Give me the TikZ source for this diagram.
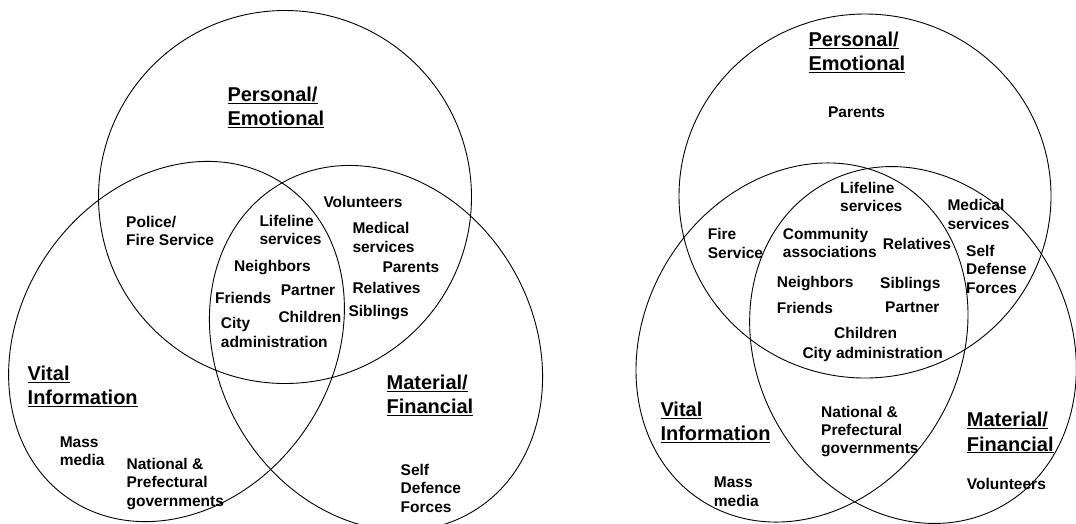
\documentclass[tikz,border=0pt]{standalone}
\usepackage{fontspec}
\setmainfont{Liberation Sans}
\begin{document}
\begin{tikzpicture}[x=1pt,y=-1pt,
  lbl/.style={anchor=north west, inner sep=0pt, align=left, font=\bfseries\fontsize{15.5}{18.3}\selectfont},
  hdr/.style={anchor=north west, inner sep=0pt, align=left, font=\bfseries\fontsize{20}{24.3}\selectfont},
  ring/.style={draw=black, line width=0.9pt}]
\useasboundingbox (0,0) rectangle (1076,523);
\clip (0,0) rectangle (1076,523);
% ---------- left diagram ----------
\draw[ring] (285,197) circle[radius=186.5pt];
\draw[ring, rotate around={55.4:(176.5,341.5)}] (176.5,341.5) ellipse[x radius=190.5pt, y radius=156pt];
\draw[ring, rotate around={120:(376,348)}] (376,348) ellipse[x radius=190pt, y radius=158pt];
\node[hdr] (pe1) at (227.3,86.8) {\underline{Personal/}\\\underline{Emotional}};
\node[hdr] (vi1) at (27.5,365.7) {\underline{Vital}\\\underline{Information}};
\node[hdr] (mf1) at (386.4,374.3) {\underline{Material/}\\\underline{Financial}};
\node[lbl] (pol1) at (126,216) {Police/\\Fire Service};
\node[lbl] (lif1) at (259.3,215) {Lifeline\\services};
\node[lbl] (vol1) at (323.3,196) {Volunteers};
\node[lbl] (med1) at (352.3,222.3) {Medical\\services};
\node[lbl] (par1) at (382.3,261.7) {Parents};
\node[lbl] (nei1) at (234,260) {Neighbors};
\node[lbl] (rel1) at (352.3,282.3) {Relatives};
\node[lbl] (ptn1) at (280.7,285) {Partner};
\node[lbl] (fri1) at (215,292.3) {Friends};
\node[lbl] (sib1) at (348.3,305) {Siblings};
\node[lbl] (chi1) at (278.3,311) {Children};
\node[lbl] (cit1) at (220.7,317.3) {City\\administration};
\node[lbl] (mas1) at (59.6,436.6) {Mass\\media};
\node[lbl] (nat1) at (126.4,458) {National \&\\Prefectural\\governments};
\node[lbl] (sdf1) at (400.5,464.2) {Self\\Defence\\Forces};
% ---------- right diagram ----------
\draw[ring] (865,196) ellipse[x radius=186pt, y radius=182pt];
\draw[ring, rotate around={58.4:(802,342.5)}] (802,342.5) ellipse[x radius=187.3pt, y radius=157.2pt];
\draw[ring, rotate around={118:(913,345)}] (913,345) ellipse[x radius=184pt, y radius=157pt];
\node[hdr] (pe2) at (808.4,31.5) {\underline{Personal/}\\\underline{Emotional}};
\node[hdr] (vi2) at (660.3,401.7) {\underline{Vital}\\\underline{Information}};
\node[hdr] (mf2) at (966.7,412) {\underline{Material/}\\\underline{Financial}};
\node[lbl] (par2) at (827.9,107) {Parents};
\node[lbl] (lif2) at (840,181.7) {Lifeline\\services};
\node[lbl] (med2) at (947.3,199.3) {Medical\\services};
\node[lbl] (fir2) at (707.7,228.3) {Fire\\Service};
\node[lbl] (com2) at (782.7,227.7) {Community\\associations};
\node[lbl] (rel2) at (882.7,237.7) {Relatives};
\node[lbl] (sdf2) at (966,245) {Self\\Defense\\Forces};
\node[lbl] (nei2) at (776.7,276) {Neighbors};
\node[lbl] (sib2) at (880,277.3) {Siblings};
\node[lbl] (fri2) at (776.7,301.7) {Friends};
\node[lbl] (ptn2) at (885,301.7) {Partner};
\node[lbl] (chi2) at (834,327.3) {Children};
\node[lbl] (cit2) at (802.3,346.7) {City administration};
\node[lbl] (nat2) at (821,405.8) {National \&\\Prefectural\\governments};
\node[lbl] (mas2) at (713.7,477) {Mass\\media};
\node[lbl] (vol2) at (966.7,477.6) {Volunteers};
\end{tikzpicture}
\end{document}
